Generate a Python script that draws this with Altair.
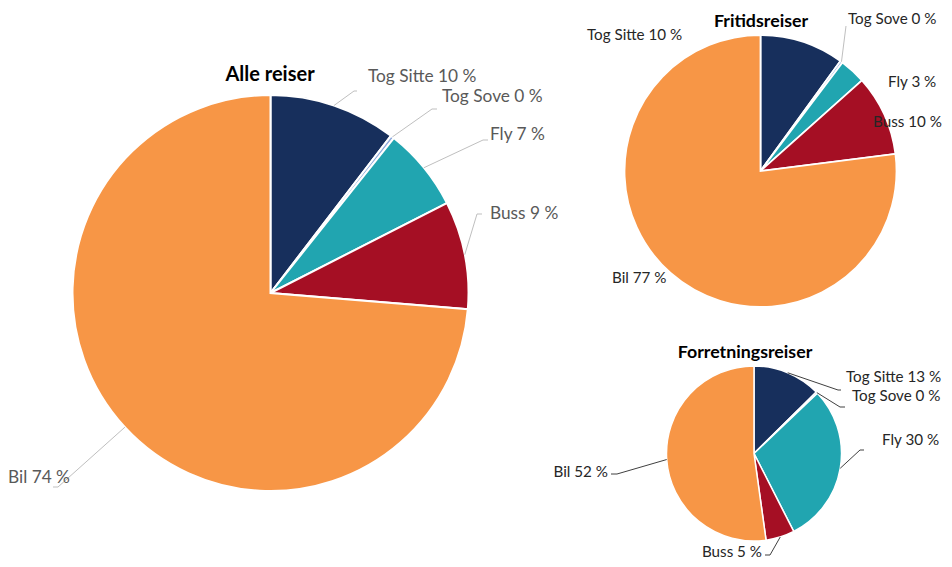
import math
import altair as alt
import pandas as pd

# ---------------- data ----------------
categories = ["Tog Sitte", "Tog Sove", "Fly", "Buss", "Bil"]
alle_reiser = [10.4, 0.3, 6.8, 8.8, 73.7]
fritidsreiser = [10.0, 0.3, 3.1, 9.6, 77.0]
forretningsreiser = [12.6, 0.3, 29.6, 5.3, 52.2]
pie_titles = ["Alle reiser", "Fritidsreiser", "Forretningsreiser"]
pie_values = [alle_reiser, fritidsreiser, forretningsreiser]

# ---------------- styles / layout ----------------
colors = ["#172f5c", "#8faadc", "#21a5b0", "#a50f24", "#f79646"]
M = 8  # page margin (screen -> chart coords)
W, H = 936, 551

pie_geom = {  # centre x, centre y, radius, stroke width (screen coords)
    "Alle reiser": (270.5, 293, 198, 2.0),
    "Fritidsreiser": (760.5, 171, 136, 1.8),
    "Forretningsreiser": (754, 453.5, 87.5, 1.5),
}
title_pos = {
    "Alle reiser": (270, 75, 20),
    "Fritidsreiser": (761, 22, 17.8),
    "Forretningsreiser": (745, 353, 17.8),
}
label_style = {  # font size, text colour, leader colour
    "Alle reiser": (17.3, "#595959", "#bfbfbf"),
    "Fritidsreiser": (15.2, "#262626", "#bfbfbf"),
    "Forretningsreiser": (15.2, "#262626", "#404040"),
}
label_layout = {
    "Alle reiser": {
        "Tog Sitte": dict(text=(368, 77), elbow=(354, 91), end=(357, 91)),
        "Tog Sove": dict(text=(442, 97), elbow=(432, 109), end=(437, 109)),
        "Fly": dict(text=(490, 135), elbow=(483, 140), end=(488, 140)),
        "Buss": dict(text=(490, 214), elbow=(477, 214), end=(482, 214)),
        "Bil": dict(text=(8, 478), elbow=(58, 487), end=(53, 487)),
    },
    "Fritidsreiser": {
        "Tog Sitte": dict(text=(587, 35)),
        "Tog Sove": dict(text=(848, 18.5), elbow=(846, 26)),
        "Fly": dict(text=(888, 82)),
        "Buss": dict(text=(873, 122)),
        "Bil": dict(text=(612, 278)),
    },
    "Forretningsreiser": {
        "Tog Sitte": dict(text=(846, 377), elbow=(838, 390), end=(841, 390)),
        "Tog Sove": dict(text=(852, 396), elbow=(840, 407), end=(845, 407)),
        "Fly": dict(text=(882, 440), elbow=(860, 450), end=(864, 450)),
        "Buss": dict(text=(762, 552), align="right", elbow=(770, 555), end=(765, 555)),
        "Bil": dict(text=(608, 472), align="right", elbow=(617, 474), end=(611, 474)),
    },
}

font = "Lato"
color_scale = alt.Scale(domain=categories, range=colors)

layers = []
label_rows = []
leader_rows = []
title_rows = []

for title, vals in zip(pie_titles, pie_values):
    cx, cy, r, sw = pie_geom[title]
    df = pd.DataFrame({"kategori": categories, "andel": vals, "rekke": range(len(categories))})
    arc = alt.Chart(df).mark_arc(radius=r, stroke="white", strokeWidth=sw).encode(
        theta=alt.Theta("andel:Q", stack=True),
        order=alt.Order("rekke:Q"),
        color=alt.Color("kategori:N", scale=color_scale, legend=None),
        x=alt.value(cx - M),
        y=alt.value(cy - M),
    )
    layers.append(arc)

    total = sum(vals)
    fs, tcol, lcol = label_style[title]
    cum = 0.0
    for cat, v in zip(categories, vals):
        mid = (cum + v / 2) / total * 2 * math.pi
        cum += v
        lay = label_layout[title][cat]
        tx, ty = lay["text"]
        label_rows.append(dict(pie=title, full=f"{cat} {round(v)} %", x=tx - M, y=ty - M,
                               anchor=lay.get("align", "left")))
        if "elbow" in lay:
            sx = cx + r * math.sin(mid)
            sy = cy - r * math.cos(mid)
            pts = [(sx, sy), lay["elbow"]]
            if "end" in lay:
                pts.append(lay["end"])
            for k, (px, py) in enumerate(pts):
                leader_rows.append(dict(key=f"{title}-{cat}", k=k, x=px - M, y=py - M, col=lcol))
    tx, ty, tfs = title_pos[title]
    title_rows.append(dict(text=title, x=tx - M, y=ty - M, size=tfs))

leaders = alt.Chart(pd.DataFrame(leader_rows)).mark_line(strokeWidth=1).encode(
    x=alt.X("x:Q", scale=None, axis=None),
    y=alt.Y("y:Q", scale=None, axis=None),
    detail="key:N",
    order="k:Q",
    color=alt.Color("col:N", scale=None),
)

labels_df = pd.DataFrame(label_rows)
label_layers = []
for title in pie_titles:
    fs, tcol, _ = label_style[title]
    for al in ["left", "right"]:
        sub = labels_df[(labels_df["pie"] == title) & (labels_df["anchor"] == al)]
        if len(sub) == 0:
            continue
        label_layers.append(
            alt.Chart(sub).mark_text(align=al, baseline="middle", font=font,
                                     fontSize=fs, color=tcol).encode(
                x=alt.X("x:Q", scale=None, axis=None),
                y=alt.Y("y:Q", scale=None, axis=None),
                text="full:N",
            )
        )

title_layers = []
for row in title_rows:
    title_layers.append(
        alt.Chart(pd.DataFrame([row])).mark_text(align="center", baseline="middle", font=font,
                                                 fontSize=row["size"], fontWeight="bold",
                                                 color="#000000").encode(
            x=alt.X("x:Q", scale=None, axis=None),
            y=alt.Y("y:Q", scale=None, axis=None),
            text="text:N",
        )
    )

chart = alt.layer(*layers, leaders, *label_layers, *title_layers).resolve_scale(
    theta="independent"
).properties(
    width=W, height=H, padding=0,
    autosize=alt.AutoSizeParams(type="none"),
    background="white",
).configure_view(stroke=None)

chart.save("out.html", embed_options={"renderer": "svg", "actions": False})
